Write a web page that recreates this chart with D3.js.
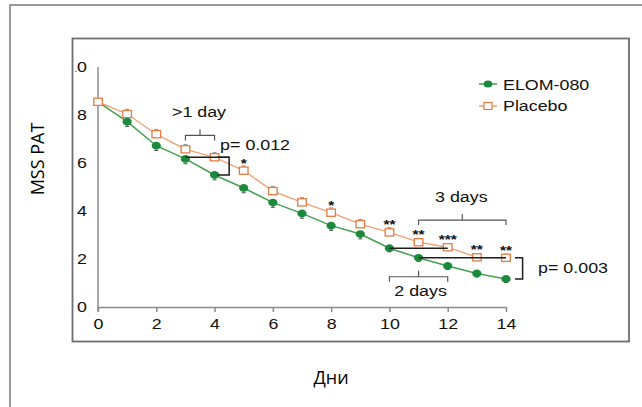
<!DOCTYPE html>
<html>
<head>
<meta charset="utf-8">
<script src="https://cdn.jsdelivr.net/npm/d3@7"></script>
<style>
  body { margin: 0; background: #fff; }
  svg { display: block; }
  .lbl { font-family: "Liberation Sans", Arial, sans-serif; fill: #111; }
  .title { font-family: "Open Sans", sans-serif; fill: #000; font-size: 18px; }
</style>
</head>
<body>
<svg id="chart" width="642" height="407"></svg>
<script>
// values
const days = [0, 1, 2, 3, 4, 5, 6, 7, 8, 9, 10, 11, 12, 13, 14];
const elom = [8.55, 7.72, 6.72, 6.17, 5.5, 4.96, 4.35, 3.9, 3.39, 3.04, 2.45, 2.05, 1.71, 1.4, 1.17];
const placebo = [8.55, 8.04, 7.2, 6.57, 6.24, 5.68, 4.83, 4.36, 3.93, 3.45, 3.11, 2.7, 2.49, 2.07, 2.05];
const elomErr = [0, 0.2, 0.2, 0.2, 0.2, 0.2, 0.2, 0.2, 0.2, 0.2, 0.15, 0.15, 0.15, 0.15, 0.15];
const placeboErr = [0, 0.2, 0.2, 0.2, 0.2, 0.2, 0.2, 0.2, 0.2, 0.2, 0.2, 0.15, 0.15, 0.15, 0.15];
const xTicks = [0, 2, 4, 6, 8, 10, 12, 14];
const yTicks = [0, 2, 4, 6, 8, 10];
const stars = [
  {day: 5, mark: "*"}, {day: 8, mark: "*"}, {day: 10, mark: "**"}, {day: 11, mark: "**"},
  {day: 12, mark: "***"}, {day: 13, mark: "**"}, {day: 14, mark: "**"}
];
// day-difference spans
const spans = [
  {from: 3, to: 4, level: 7.15, text: ">1 day", side: "above"},
  {from: 11, to: 14, level: 3.62, text: "3 days", side: "above"},
  {from: 10, to: 12, level: 1.26, text: "2 days", side: "below"}
];
const levelLines = [
  {from: 3, to: 4.5, value: placebo[4]},
  {from: 10, to: 12, value: elom[10]},
  {from: 11, to: 14, value: elom[11]}
];
const pvals = [
  {at: 4.5, tail: 4.1, top: placebo[4], bottom: elom[4], text: "p= 0.012", tx: 4.19, ty: 6.54},
  {at: 14.57, tail: 14.31, top: placebo[14], bottom: elom[14], text: "p= 0.003", tx: 15.1, ty: 1.42}
];

const SX = 1.19; // the source image is stretched sideways
const green = "#1b8a3c", greenLine = "#43a04f";
const orange = "#e27c44", orangeLine = "#eea172";

const svg = d3.select("#chart");
const x = d3.scaleLinear().domain([0, 14]).range([98, 506]);
const y = d3.scaleLinear().domain([0, 10]).range([307, 67]);

const txt = (g, px, py, s, anchor, size) => g.append("text")
  .attr("class", "lbl")
  .attr("transform", `translate(${px},${py}) scale(${SX},1)`)
  .attr("text-anchor", anchor)
  .style("font-size", size + "px")
  .text(s);

// outer frame (only top and left show)
svg.append("path").attr("d", "M10,407V5H642")
  .attr("fill", "none").attr("stroke", "#7a7a7a").attr("stroke-width", 1.5);

svg.append("clipPath").attr("id", "inner")
  .append("rect").attr("x", 75.5).attr("y", 39).attr("width", 553).attr("height", 302);

const plot = svg.append("g").attr("clip-path", "url(#inner)");

// axes
plot.append("line").attr("x1", x(0)).attr("x2", x(0)).attr("y1", y(10)).attr("y2", y(0) + 4)
  .attr("stroke", "#8c8c8c").attr("stroke-width", 1.5);
const xa = plot.append("g").attr("transform", `translate(0,${y(0)})`)
  .call(d3.axisBottom(x).tickValues(xTicks).tickSize(5).tickSizeOuter(0).tickPadding(6));
xa.select(".domain").attr("stroke", "#8c8c8c").attr("stroke-width", 1.5);
xa.selectAll(".tick line").attr("stroke", "#8c8c8c").attr("stroke-width", 1.5);
xa.selectAll(".tick text").attr("class", "lbl").attr("transform", `scale(${SX},1)`)
  .style("font-size", "15px").attr("fill", "#111");

const ya = plot.append("g").attr("transform", `translate(${x(0)},0)`)
  .call(d3.axisLeft(y).tickValues(yTicks).tickSize(0).tickPadding(0));
ya.select(".domain").remove();
ya.selectAll(".tick text").attr("class", "lbl").attr("x", -11 / SX).attr("transform", `scale(${SX},1)`)
  .style("font-size", "15px").attr("fill", "#111");

// series
const line = vals => d3.line().x((d, i) => x(days[i])).y(d => y(d))(vals);
plot.append("path").attr("d", line(placebo)).attr("fill", "none")
  .attr("stroke", orangeLine).attr("stroke-width", 1.3);
plot.append("path").attr("d", line(elom)).attr("fill", "none")
  .attr("stroke", greenLine).attr("stroke-width", 1.5);

// error bars: placebo upward, ELOM downward
plot.selectAll(".errP").data(days.filter(d => placeboErr[d] > 0)).enter().append("path")
  .attr("d", d => `M${x(d)},${y(placebo[d])}V${y(placebo[d] + placeboErr[d])}M${x(d) - 2},${y(placebo[d] + placeboErr[d])}H${x(d) + 2}`)
  .attr("stroke", "#999").attr("stroke-width", 1);
plot.selectAll(".errE").data(days.filter(d => elomErr[d] > 0)).enter().append("path")
  .attr("d", d => `M${x(d)},${y(elom[d])}V${y(elom[d] - elomErr[d])}M${x(d) - 2},${y(elom[d] - elomErr[d])}H${x(d) + 2}`)
  .attr("stroke", "#555").attr("stroke-width", 1);

plot.selectAll(".sq").data(days).enter().append("rect")
  .attr("x", d => x(d) - 4.3).attr("y", d => y(placebo[d]) - 3.6)
  .attr("width", 8.6).attr("height", 7.2)
  .attr("fill", "#fff").attr("stroke", orange).attr("stroke-width", 1.3);
plot.selectAll(".dot").data(days.slice(1)).enter().append("ellipse")
  .attr("cx", d => x(d)).attr("cy", d => y(elom[d]))
  .attr("rx", 4.6).attr("ry", 3.9).attr("fill", green);

// significance stars
stars.forEach(s => txt(plot, x(s.day), y(placebo[s.day]) - 3, s.mark, "middle", 13).style("font-weight", "bold"));

// level lines and p-value brackets
const ink = "#1e1e1e";
levelLines.forEach(l => plot.append("line")
  .attr("x1", x(l.from)).attr("x2", x(l.to)).attr("y1", y(l.value)).attr("y2", y(l.value))
  .attr("stroke", ink).attr("stroke-width", 1.5));
pvals.forEach(p => {
  plot.append("path")
    .attr("d", `M${x(p.tail)},${y(p.top)}H${x(p.at)}V${y(p.bottom)}H${x(p.tail)}`)
    .attr("fill", "none").attr("stroke", ink).attr("stroke-width", 1.5);
  txt(plot, x(p.tx), y(p.ty), p.text, "start", 15);
});

// day spans (brace-like brackets)
spans.forEach(s => {
  const yy = y(s.level), x0 = x(s.from), x1 = x(s.to), xm = (x0 + x1) / 2;
  plot.append("path")
    .attr("d", `M${x0},${yy + 5}V${yy}H${x1}V${yy + 5}M${xm},${yy}V${yy - 6}`)
    .attr("fill", "none").attr("stroke", "#555").attr("stroke-width", 1.2);
  if (s.side === "above") txt(plot, xm - 1, yy - 18, s.text, "middle", 15);
  else txt(plot, xm + 2, yy + 19, s.text, "middle", 15);
});

// legend
const lg = plot.append("g");
lg.append("line").attr("x1", 479).attr("x2", 497).attr("y1", 84).attr("y2", 84)
  .attr("stroke", greenLine).attr("stroke-width", 1.5);
lg.append("ellipse").attr("cx", 488).attr("cy", 84).attr("rx", 4.3).attr("ry", 3.6).attr("fill", green);
txt(lg, 503, 89.5, "ELOM-080", "start", 15);
lg.append("line").attr("x1", 479).attr("x2", 497).attr("y1", 106).attr("y2", 106)
  .attr("stroke", orangeLine).attr("stroke-width", 1.3);
lg.append("rect").attr("x", 484).attr("y", 102.5).attr("width", 8).attr("height", 7)
  .attr("fill", "#fff").attr("stroke", orange).attr("stroke-width", 1.2);
txt(lg, 503, 111, "Placebo", "start", 15);

// inner frame
svg.append("rect").attr("x", 72.5).attr("y", 38.5).attr("width", 556.5).attr("height", 303)
  .attr("fill", "none").attr("stroke", "#6e6e6e").attr("stroke-width", 1.8);

// axis titles
svg.append("text").attr("class", "title").attr("text-anchor", "middle")
  .attr("transform", "translate(44,159) rotate(-90)").text("MSS PAT");
svg.append("text").attr("class", "title").attr("text-anchor", "middle")
  .attr("x", 331).attr("y", 384).text("Дни");
</script>
</body>
</html>
